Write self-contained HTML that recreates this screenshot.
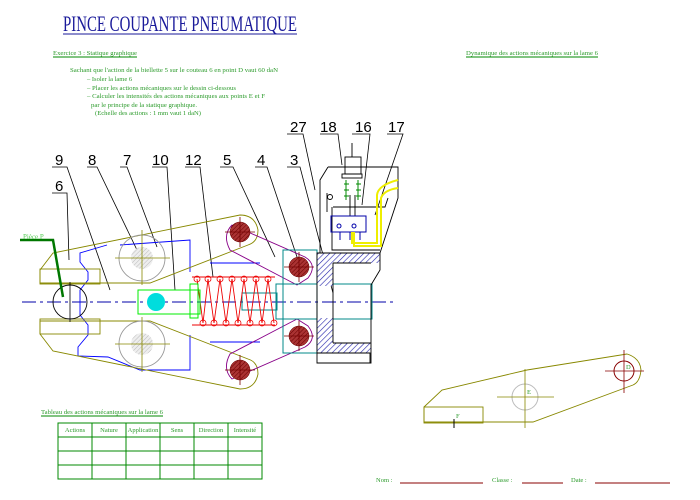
<!DOCTYPE html>
<html><head><meta charset="utf-8"><style>
html,body{margin:0;padding:0;background:#fff;width:700px;height:500px;overflow:hidden}
svg{display:block}
.g{fill:#2a9a2a;font-family:"Liberation Serif",serif;font-size:6.5px}
.n{font-family:"Liberation Sans",sans-serif;font-size:15px;fill:#000}
</style></head><body>
<svg width="700" height="500" viewBox="0 0 700 500" xmlns="http://www.w3.org/2000/svg">
<defs>
<pattern id="hb" width="4" height="4" patternUnits="userSpaceOnUse" patternTransform="rotate(45)"><rect width="4" height="4" fill="#fff"/><line x1="0" y1="0" x2="0" y2="4" stroke="#22a" stroke-width="1.2"/></pattern>
<pattern id="hr" width="3" height="3" patternUnits="userSpaceOnUse" patternTransform="rotate(45)"><rect width="3" height="3" fill="#a33"/><line x1="0" y1="0" x2="0" y2="3" stroke="#600" stroke-width="1"/></pattern>
<pattern id="hg" width="3" height="3" patternUnits="userSpaceOnUse" patternTransform="rotate(45)"><rect width="3" height="3" fill="#eee"/><line x1="0" y1="0" x2="0" y2="3" stroke="#bbb" stroke-width="1"/></pattern>
</defs>
<text x="63" y="31" font-family="Liberation Serif,serif" font-size="22" fill="#1a1a9a" textLength="234" lengthAdjust="spacingAndGlyphs">PINCE COUPANTE PNEUMATIQUE</text>
<line x1="63" y1="34" x2="297" y2="34" stroke="#1a1a9a" stroke-width="1"/>
<text class="g" x="53" y="55" textLength="84" lengthAdjust="spacingAndGlyphs">Exercice 3 : Statique graphique</text>
<line x1="53" y1="57" x2="137" y2="57" stroke="#080" stroke-width="1"/>
<text class="g" x="466" y="55" textLength="132" lengthAdjust="spacingAndGlyphs">Dynamique des actions mécaniques sur la lame 6</text>
<line x1="466" y1="57" x2="598" y2="57" stroke="#080" stroke-width="1"/>
<text class="g" x="70" y="72" textLength="208" lengthAdjust="spacingAndGlyphs">Sachant que l'action de la biellette 5 sur le couteau 6 en point D vaut 60 daN</text>
<text class="g" x="87" y="81">– Isoler la lame 6</text>
<text class="g" x="87" y="90" textLength="149" lengthAdjust="spacingAndGlyphs">– Placer les actions mécaniques sur le dessin ci-dessous</text>
<text class="g" x="87" y="98" textLength="178" lengthAdjust="spacingAndGlyphs">– Calculer les intensités des actions mécaniques aux points E et F</text>
<text class="g" x="91" y="107" textLength="106" lengthAdjust="spacingAndGlyphs">par le principe de la statique graphique.</text>
<text class="g" x="95" y="115" textLength="106" lengthAdjust="spacingAndGlyphs">(Echelle des actions : 1 mm vaut 1 daN)</text>

<g class="n">
<text x="290" y="132">27</text><text x="320" y="132">18</text><text x="355" y="132">16</text><text x="388" y="132">17</text>
<text x="55" y="165">9</text><text x="88" y="165">8</text><text x="123" y="165">7</text><text x="152" y="165">10</text><text x="185" y="165">12</text><text x="223" y="165">5</text><text x="257" y="165">4</text><text x="290" y="165">3</text>
<text x="55" y="191">6</text>
</g>
<g stroke="#000" stroke-width="0.8" fill="none">
<path d="M287 134H303L315 190"/><path d="M320 134H338L342 165"/><path d="M352 134H370L362 205"/><path d="M387 134H403L375 215"/>
<path d="M52 167H67L110 290"/><path d="M87 167H97L137 250"/><path d="M120 167H127L157 247"/><path d="M152 167H167L175 290"/><path d="M185 167H200L213 277"/><path d="M220 167H233L275 257"/><path d="M255 167H267L298 260"/><path d="M287 167H300L333 293"/>
<path d="M52 193H67L69 260"/>
</g>

<line x1="22" y1="302" x2="393" y2="302" stroke="#00a" stroke-width="1" stroke-dasharray="14,4,3,4"/>

<g stroke="#00f" stroke-width="0.9" fill="none">
<path d="M107 245L80 253V262L88 272V280L80 290V315L88 325V335L78 347V356L108 357L140 370L190 370V335"/>
<path d="M120 245L190 240V272"/>
<path d="M210 263H260M210 342H260"/>
</g>

<g stroke="#880" stroke-width="0.9" fill="none">
<path d="M40 270L53 253L240 215Q255 215 258 230Q258 242 248 245L150 283H40Z"/>
<rect x="40" y="269" width="60" height="15"/>
<path d="M40 334L53 351L240 389Q255 389 258 374Q258 362 248 359L150 321H40Z"/>
<rect x="40" y="319" width="60" height="15"/>
</g>
<g stroke="#999" fill="none" stroke-width="0.9">
<circle cx="142" cy="258" r="23"/><circle cx="142" cy="344" r="23"/>
</g>
<circle cx="142" cy="258" r="11" fill="url(#hg)"/><circle cx="142" cy="344" r="11" fill="url(#hg)"/>
<g stroke="#880" stroke-width="0.8">
<path d="M142 230V285M115 258H170M142 317V372M115 344H170"/>
</g>

<g stroke="#808" stroke-width="0.9" fill="none">
<path d="M232 225L305 257Q318 265 308 278L297 285L230 250Q222 235 232 225Z"/>
<path d="M232 379L305 347Q318 339 308 326L297 319L230 354Q222 369 232 379Z"/>
</g>
<g fill="url(#hr)" stroke="#600" stroke-width="0.5">
<circle cx="240" cy="232" r="10"/><circle cx="240" cy="370" r="10"/><circle cx="299" cy="267" r="10"/><circle cx="299" cy="336" r="10"/>
</g>
<g stroke="#700" stroke-width="0.8">
<path d="M225 232H255M240 217V247M225 370H255M240 355V385M284 267H314M299 252V282M284 336H314M299 321V351"/>
</g>

<rect x="283" y="250" width="34" height="103" fill="none" stroke="#088" stroke-width="1"/>
<g stroke="#088" fill="none" stroke-width="1">
<rect x="242" y="293" width="35" height="17"/>
<rect x="276" y="284" width="96" height="35"/>
</g>
<g stroke="#e00" fill="none" stroke-width="0.9">
<path d="M192 277H275M192 325H275"/>
<path d="M197 279L203 323L208 279L214 323L220 279L226 323L232 279L238 323L244 279L250 323L256 279L262 323L268 279L274 323"/>
</g>
<g fill="none" stroke="#e00" stroke-width="0.8">
<circle cx="197" cy="279" r="3"/><circle cx="208" cy="279" r="3"/><circle cx="220" cy="279" r="3"/><circle cx="232" cy="279" r="3"/><circle cx="244" cy="279" r="3"/><circle cx="256" cy="279" r="3"/><circle cx="268" cy="279" r="3"/>
<circle cx="203" cy="323" r="3"/><circle cx="214" cy="323" r="3"/><circle cx="226" cy="323" r="3"/><circle cx="238" cy="323" r="3"/><circle cx="250" cy="323" r="3"/><circle cx="262" cy="323" r="3"/><circle cx="274" cy="323" r="3"/>
</g>
<g stroke="#0e0" fill="none" stroke-width="1">
<rect x="138" y="290" width="62" height="24"/><rect x="190" y="284" width="8" height="34"/>
</g>
<circle cx="156" cy="302" r="9" fill="#0dd"/>
<circle cx="70" cy="302" r="17" fill="none" stroke="#000" stroke-width="0.9"/>
<path d="M70 282V322" stroke="#000" stroke-width="0.8"/>
<path d="M20 240H53L63 297" stroke="#070" stroke-width="2.5" fill="none"/>
<text x="23" y="239" font-family="Liberation Serif,serif" font-size="7" fill="#5c5">Pièce P</text>

<g fill="url(#hb)">
<rect x="317" y="253" width="16" height="33"/><rect x="317" y="318" width="16" height="35"/>
<rect x="317" y="253" width="63" height="10"/><rect x="333" y="343" width="38" height="10"/>
</g>
<g stroke="#000" fill="none" stroke-width="0.9">
<path d="M317 253H380V270L371 285V363H317Z"/>
<path d="M333 263H371M333 343H371M333 263V343"/>
<path d="M317 353H370V363"/>
<path d="M328 167H398V198L380 253M328 167L320 180V253"/>
<path d="M327 193V212M333 207H385L388 198M332 207V250H380"/>
<rect x="345" y="157" width="16" height="17"/>
<rect x="342" y="174" width="20" height="4"/>
<line x1="352" y1="143" x2="352" y2="157"/>
<line x1="350" y1="195" x2="350" y2="216"/><line x1="355" y1="195" x2="355" y2="216"/>
<circle cx="330" cy="197" r="2.5"/>
</g>
<g stroke="#080" stroke-width="1" fill="none">
<path d="M346 180V200M358 180V200M344 184H349M344 190H349M344 196H349M356 184H361M356 190H361M356 196H361"/>
</g>
<rect x="331" y="216" width="35" height="16" fill="none" stroke="#00a" stroke-width="1"/>
<g fill="none" stroke="#00a"><circle cx="339" cy="226" r="2"/><circle cx="354" cy="226" r="2"/></g>
<path d="M340 232V240M350 232V240M360 232V240" stroke="#00a"/>
<path d="M352 232V243H377V195Q378 185 398 180M354 232V246H381V198Q384 190 398 188" stroke="#ee0" stroke-width="2" fill="none"/>

<text class="g" x="41" y="414" textLength="122" lengthAdjust="spacingAndGlyphs">Tableau des actions mécaniques sur la lame 6</text>
<line x1="41" y1="416" x2="163" y2="416" stroke="#080"/>
<g stroke="#080" stroke-width="1" fill="none">
<rect x="58" y="423" width="204" height="56"/>
<path d="M58 437H262M58 451H262M58 465H262M92 423V479M126 423V479M160 423V479M194 423V479M228 423V479"/>
</g>
<g class="g" text-anchor="middle" font-size="6">
<text x="75" y="432">Actions</text><text x="109" y="432">Nature</text><text x="143" y="432">Application</text><text x="177" y="432">Sens</text><text x="211" y="432">Direction</text><text x="245" y="432">Intensité</text>
</g>

<g stroke="#880" stroke-width="0.9" fill="none">
<path d="M424 407L442 390L527 370L627 354Q640 358 641 370Q640 382 633 385L533 422H424Z"/>
<rect x="424" y="407" width="59" height="16"/>
</g>
<circle cx="525" cy="397" r="13" fill="none" stroke="#bbb"/>
<path d="M497 397H554M525 369V428" stroke="#880" stroke-width="0.8"/>
<circle cx="624" cy="371" r="10" fill="none" stroke="#800"/>
<path d="M605 371H644M624 350V393" stroke="#800" stroke-width="0.8"/>
<path d="M454 419V428" stroke="#000"/>
<g class="g" font-size="7"><text x="456" y="418">F</text><text x="527" y="394">E</text><text x="626" y="369">D</text></g>

<g class="g" font-size="8"><text x="376" y="482">Nom :</text><text x="492" y="482">Classe :</text><text x="571" y="482">Date :</text></g>
<g stroke="#800" stroke-width="1"><path d="M400 483H483M522 483H563M595 483H670"/></g>
</svg>
</body></html>
